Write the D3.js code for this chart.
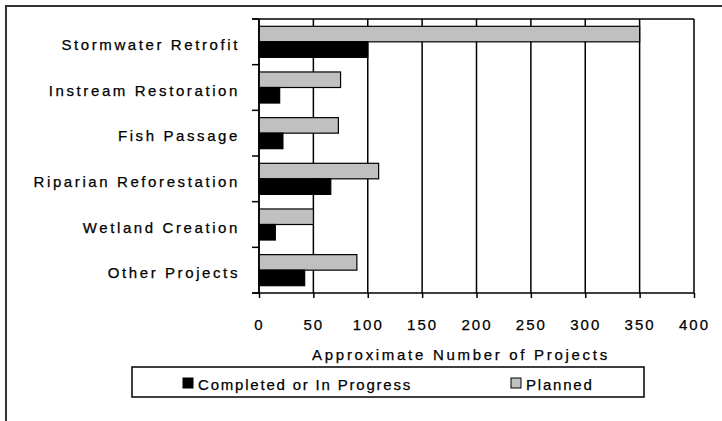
<!DOCTYPE html>
<html>
<head>
<meta charset="utf-8">
<script src="https://cdn.jsdelivr.net/npm/d3@7"></script>
<style>
  body { margin: 0; background: #fff; }
  text { font-family: "Liberation Sans", Arial, sans-serif; fill: #000; stroke: #000; stroke-width: 0.25px; }
</style>
</head>
<body>
<svg id="chart" width="722" height="421"></svg>
<script>
// data
const categories = ["Stormwater Retrofit", "Instream Restoration", "Fish Passage",
    "Riparian Reforestation", "Wetland Creation", "Other Projects"];
const planned = [350, 75, 73, 110, 50, 90];
const completed = [100, 19, 22, 66, 15, 42];
const xTicks = [0, 50, 100, 150, 200, 250, 300, 350, 400];
const seriesNames = ["Planned", "Completed or In Progress"];

const svg = d3.select("#chart");
const plotL = 259, plotR = 694, plotT = 19, plotB = 293;

// outer frame (runs off the right and bottom edges)
svg.append("path")
    .attr("d", "M6,430V6H730")
    .attr("fill", "none")
    .attr("stroke", "#333")
    .attr("stroke-width", 2);

const x = d3.scaleLinear().domain([0, 400]).range([plotL, plotR]);
const y = d3.scaleBand().domain(categories).range([plotT, plotB]).padding(0);
const sub = d3.scaleBand().domain(seriesNames).range([0, y.bandwidth()])
    .paddingInner(0).paddingOuter(0.47);

const rows = categories.map((c, i) => ({ cat: c, planned: planned[i], completed: completed[i] }));

// grid lines
svg.append("g").selectAll("line")
    .data(xTicks)
    .join("line")
    .attr("x1", d => x(d)).attr("x2", d => x(d))
    .attr("y1", plotT).attr("y2", plotB)
    .attr("stroke", "#000").attr("stroke-width", 1.5);

// top border
svg.append("line")
    .attr("x1", plotL - 7).attr("x2", plotR)
    .attr("y1", plotT).attr("y2", plotT)
    .attr("stroke", "#000").attr("stroke-width", 1.5);

// bars
const g = svg.append("g");
g.selectAll("rect.planned")
    .data(rows)
    .join("rect")
    .attr("class", "planned")
    .attr("x", x(0))
    .attr("y", d => y(d.cat) + sub("Planned"))
    .attr("width", d => x(d.planned) - x(0))
    .attr("height", sub.bandwidth())
    .attr("fill", "#c0c0c0")
    .attr("stroke", "#000").attr("stroke-width", 1.2);

g.selectAll("rect.completed")
    .data(rows)
    .join("rect")
    .attr("class", "completed")
    .attr("x", x(0))
    .attr("y", d => y(d.cat) + sub("Completed or In Progress"))
    .attr("width", d => x(d.completed) - x(0))
    .attr("height", sub.bandwidth())
    .attr("fill", "#000")
    .attr("stroke", "#000").attr("stroke-width", 1.2);

// x axis
const xAxis = d3.axisBottom(x).tickValues(xTicks).tickSizeInner(5).tickSizeOuter(0).tickPadding(21);
const gx = svg.append("g").attr("transform", `translate(0,${plotB})`).call(xAxis);
gx.select(".domain").remove();
gx.selectAll(".tick line").attr("stroke", "#000").attr("stroke-width", 1.5);
gx.selectAll(".tick text")
    .attr("font-size", 15).attr("letter-spacing", "2px")
    .style("font-family", "'Liberation Sans', Arial, sans-serif");
svg.append("line")
    .attr("x1", plotL - 7).attr("x2", plotR)
    .attr("y1", plotB).attr("y2", plotB)
    .attr("stroke", "#000").attr("stroke-width", 1.5);

// y axis line and ticks at band edges
svg.append("line")
    .attr("x1", plotL).attr("x2", plotL)
    .attr("y1", plotT).attr("y2", plotB)
    .attr("stroke", "#000").attr("stroke-width", 1.5);
const edges = categories.map(c => y(c)).concat([y.range()[1]]);
svg.append("g").selectAll("line")
    .data(edges)
    .join("line")
    .attr("x1", plotL - 7).attr("x2", plotL)
    .attr("y1", d => d).attr("y2", d => d)
    .attr("stroke", "#000").attr("stroke-width", 1.5);

// category labels
svg.append("g").selectAll("text")
    .data(categories)
    .join("text")
    .attr("x", 240)
    .attr("y", d => y(d) + y.bandwidth() / 2 + 8)
    .attr("text-anchor", "end")
    .attr("font-size", 15)
    .attr("letter-spacing", "2.6px")
    .text(d => d);

// axis title
svg.append("text")
    .attr("x", 461).attr("y", 360)
    .attr("text-anchor", "middle")
    .attr("font-size", 15)
    .attr("letter-spacing", "2.7px")
    .text("Approximate Number of Projects");

// legend
const lg = svg.append("g");
lg.append("rect")
    .attr("x", 132).attr("y", 367).attr("width", 512).attr("height", 30)
    .attr("fill", "#fff").attr("stroke", "#000").attr("stroke-width", 1.5);
const legendItems = [
    { name: seriesNames[1], fill: "#000", x: 183 },
    { name: seriesNames[0], fill: "#c0c0c0", x: 511 }
];
legendItems.forEach(d => {
    lg.append("rect")
        .attr("x", d.x).attr("y", 378).attr("width", 10).attr("height", 10)
        .attr("fill", d.fill).attr("stroke", "#000").attr("stroke-width", 1);
    lg.append("text")
        .attr("x", d.x + 15).attr("y", 390)
        .attr("font-size", 15)
        .attr("letter-spacing", "1.8px")
        .text(d.name);
});
</script>
</body>
</html>
